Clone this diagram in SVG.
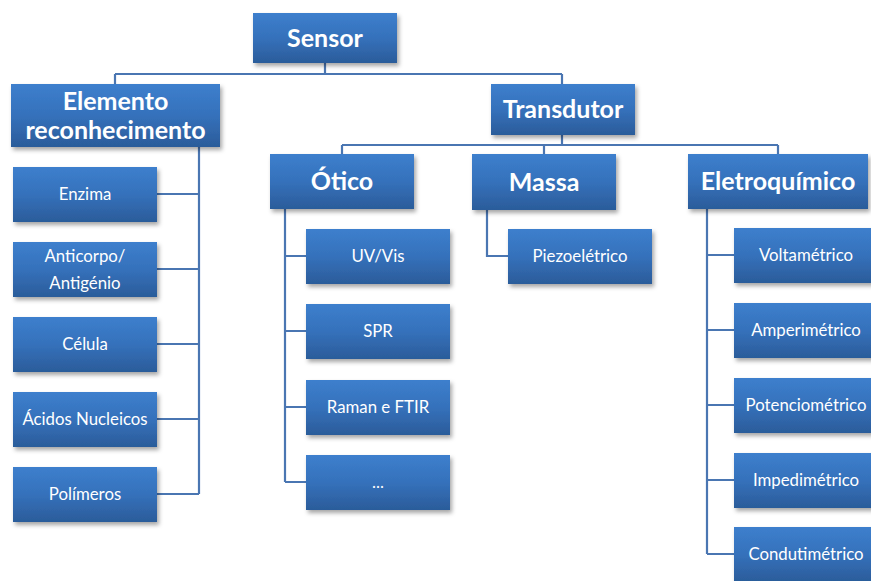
<svg xmlns="http://www.w3.org/2000/svg" width="871" height="581" viewBox="0 0 871 581">
  <defs>
    <linearGradient id="boxFill" x1="0" y1="0" x2="0" y2="1">
      <stop offset="0" stop-color="#3d7fcd"/>
      <stop offset="0.5" stop-color="#3571bb"/>
      <stop offset="1" stop-color="#2b5c9a"/>
    </linearGradient>
    <filter id="shadow" x="-10%" y="-15%" width="125%" height="140%">
      <feDropShadow dx="2" dy="3" stdDeviation="2.2" flood-color="#000" flood-opacity="0.35"/>
    </filter>
  </defs>
  <style>
    .box { fill: url(#boxFill); filter: url(#shadow); }
    .link { fill: none; stroke: #4a76b2; stroke-width: 2.2; }
    .title { font-family: Lato, "Liberation Sans", sans-serif; font-weight: bold; font-size: 25px; fill: #ffffff; text-anchor: middle; dominant-baseline: central; }
    .leaf { font-family: Lato, "Liberation Sans", sans-serif; font-size: 16.8px; fill: #ffffff; text-anchor: middle; dominant-baseline: central; }
  </style>
  <rect width="871" height="581" fill="#ffffff"/>

  <!-- connectors -->
  <g id="connectors">
    <!-- Sensor to its two branches -->
    <path class="link" d="M325 63 V74 M115 74 H562 M115 74 V84 M562 74 V84"/>
    <!-- Transdutor to Ótico / Massa / Eletroquímico -->
    <path class="link" d="M562 135 V145 M342 145 H778 M342 145 V154 M544 145 V154 M778 145 V154"/>
    <!-- Elemento reconhecimento trunk -->
    <path class="link" d="M199 147 V494 M157 194 H199 M157 269 H199 M157 344 H199 M157 419 H199 M157 494 H199"/>
    <!-- Ótico trunk -->
    <path class="link" d="M285 209 V482 M285 256 H306 M285 331 H306 M285 407 H306 M285 482 H306"/>
    <!-- Massa trunk -->
    <path class="link" d="M487 210 V256 H508"/>
    <!-- Eletroquímico trunk -->
    <path class="link" d="M707 209 V554 M707 255 H734 M707 330 H734 M707 405 H734 M707 480 H734 M707 554 H734"/>
  </g>

  <!-- top level -->
  <g id="sensor">
    <rect class="box" x="253" y="13" width="144" height="50"/>
    <text class="title" x="325" y="36.5">Sensor</text>
  </g>

  <g id="elemento">
    <rect class="box" x="11" y="84" width="209" height="63"/>
    <text class="title" x="115.5" y="99.5">Elemento</text>
    <text class="title" x="115.5" y="128.5">reconhecimento</text>
  </g>

  <g id="transdutor">
    <rect class="box" x="491" y="84" width="144" height="51"/>
    <text class="title" x="563" y="108">Transdutor</text>
  </g>

  <!-- recognition elements -->
  <g id="enzima">
    <rect class="box" x="13" y="167" width="144" height="55"/>
    <text class="leaf" x="85" y="193.5">Enzima</text>
  </g>
  <g id="anticorpo">
    <rect class="box" x="13" y="242" width="144" height="55"/>
    <text class="leaf" x="85" y="255.5">Anticorpo/</text>
    <text class="leaf" x="85" y="282.5">Antigénio</text>
  </g>
  <g id="celula">
    <rect class="box" x="13" y="317" width="144" height="55"/>
    <text class="leaf" x="85" y="343.5">Célula</text>
  </g>
  <g id="acidos">
    <rect class="box" x="13" y="392" width="144" height="55"/>
    <text class="leaf" x="85" y="418.5">Ácidos Nucleicos</text>
  </g>
  <g id="polimeros">
    <rect class="box" x="13" y="467" width="144" height="55"/>
    <text class="leaf" x="85" y="493.5">Polímeros</text>
  </g>

  <!-- transducer types -->
  <g id="otico">
    <rect class="box" x="270" y="154" width="144" height="55"/>
    <text class="title" x="342" y="180">Ótico</text>
  </g>
  <g id="massa">
    <rect class="box" x="472" y="154" width="144" height="56"/>
    <text class="title" x="544" y="180.5">Massa</text>
  </g>
  <g id="eletroquimico">
    <rect class="box" x="688" y="154" width="180" height="55"/>
    <text class="title" x="778" y="180">Eletroquímico</text>
  </g>

  <!-- optical -->
  <g id="uvvis">
    <rect class="box" x="306" y="229" width="144" height="55"/>
    <text class="leaf" x="378" y="255.5">UV/Vis</text>
  </g>
  <g id="spr">
    <rect class="box" x="306" y="304" width="144" height="55"/>
    <text class="leaf" x="378" y="330.5">SPR</text>
  </g>
  <g id="raman">
    <rect class="box" x="306" y="380" width="144" height="55"/>
    <text class="leaf" x="378" y="406.5">Raman e FTIR</text>
  </g>
  <g id="outros">
    <rect class="box" x="306" y="455" width="144" height="55"/>
    <text class="leaf" x="378" y="481.5">...</text>
  </g>

  <!-- mass -->
  <g id="piezo">
    <rect class="box" x="508" y="229" width="144" height="55"/>
    <text class="leaf" x="580" y="255.5">Piezoelétrico</text>
  </g>

  <!-- electrochemical -->
  <g id="voltametrico">
    <rect class="box" x="734" y="228" width="144" height="55"/>
    <text class="leaf" x="806" y="254.5">Voltamétrico</text>
  </g>
  <g id="amperimetrico">
    <rect class="box" x="734" y="303" width="144" height="55"/>
    <text class="leaf" x="806" y="329.5">Amperimétrico</text>
  </g>
  <g id="potenciometrico">
    <rect class="box" x="734" y="378" width="144" height="55"/>
    <text class="leaf" x="806" y="404.5">Potenciométrico</text>
  </g>
  <g id="impedimetrico">
    <rect class="box" x="734" y="453" width="144" height="55"/>
    <text class="leaf" x="806" y="479.5">Impedimétrico</text>
  </g>
  <g id="condutimetrico">
    <rect class="box" x="734" y="527" width="144" height="55"/>
    <text class="leaf" x="806" y="553.5">Condutimétrico</text>
  </g>
</svg>
